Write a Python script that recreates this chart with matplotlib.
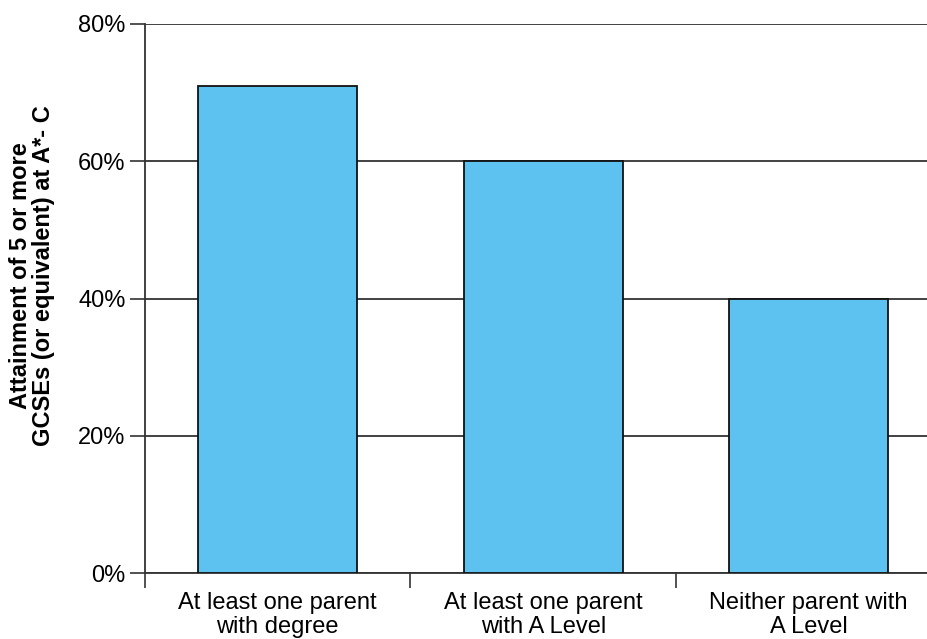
import matplotlib
matplotlib.use("Agg")
import matplotlib.pyplot as plt
from matplotlib.ticker import FixedLocator, FuncFormatter

categories = ["At least one parent\nwith degree", "At least one parent\nwith A Level", "Neither parent with\nA Level"]
values = [71, 60, 40]
yticks = [0, 20, 40, 60, 80]
ylabel = "Attainment of 5 or more\nGCSEs (or equivalent) at A*- C"

plt.rcParams['font.family'] = ['Liberation Sans', 'DejaVu Sans']

W, H = 928, 639
fig = plt.figure(figsize=(W / 100, H / 100), dpi=100)
left, right, top, bottom = 145, 941.5, 24, 573
ax = fig.add_axes([left / W, 1 - bottom / H, (right - left) / W, (bottom - top) / H])

x = list(range(len(categories)))
ax.bar(x, values, width=0.6, color="#5EC2F1", edgecolor="#111111", linewidth=1.3, zorder=3)

ax.set_xlim(-0.5, len(categories) - 0.5)
ax.set_ylim(0, 80)

ax.set_yticks(yticks)
ax.yaxis.set_major_formatter(FuncFormatter(lambda v, p: f"{int(v)}%"))
ax.yaxis.grid(True, color="#333333", linewidth=1.3, zorder=1)
ax.tick_params(axis="y", length=11, width=1.2, color="#333333", labelsize=17, pad=3)

ax.xaxis.set_major_locator(FixedLocator([i - 0.5 for i in range(len(categories) + 1)]))
ax.xaxis.set_major_formatter(FuncFormatter(lambda v, p: ""))
ax.xaxis.set_minor_locator(FixedLocator(x))
ax.set_xticklabels(categories, minor=True)
ax.tick_params(axis="x", which="major", length=10.5, width=1.2, color="#333333", direction="out")
ax.tick_params(axis="x", which="minor", length=0, labelsize=17, pad=14)
for lbl in ax.get_xticklabels(minor=True):
    lbl.set_linespacing(1.12)

for s in ["top", "right"]:
    ax.spines[s].set_visible(False)
for s in ["left", "bottom"]:
    ax.spines[s].set_color("#333333")
    ax.spines[s].set_linewidth(1.3)
ax.set_axisbelow(True)

fig.text(32 / W, 1 - 276 / H, ylabel, rotation=90, ha="center", va="center",
         fontsize=17, fontweight="bold", linespacing=1.05)

fig.savefig("out.png", dpi=100)
